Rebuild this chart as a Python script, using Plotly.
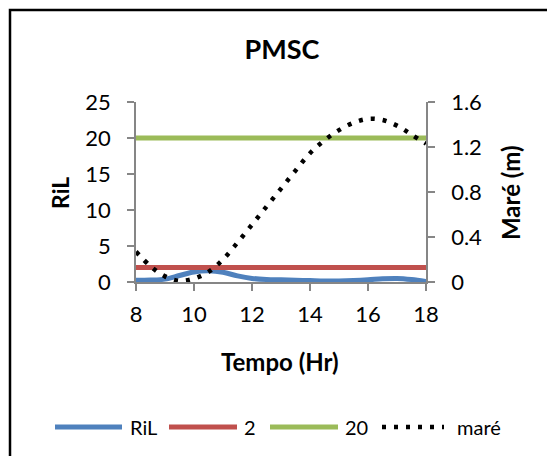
import plotly.graph_objects as go

hours = [8, 8.5, 9, 9.5, 10, 10.5, 11, 11.5, 12, 12.5, 13, 13.5, 14, 14.5, 15, 15.5, 16, 16.5, 17, 17.5, 18]
ril = [0.24, 0.27, 0.4, 0.9, 1.4, 1.55, 1.35, 0.85, 0.5, 0.35, 0.3, 0.25, 0.2, 0.15, 0.15, 0.2, 0.3, 0.45, 0.5, 0.35, 0.08]
ref2 = [2] * len(hours)
ref20 = [20] * len(hours)
mare = [0.27, 0.14, 0.05, 0.01, 0.03, 0.09, 0.20, 0.35, 0.51, 0.67, 0.83, 0.99, 1.145, 1.26, 1.35, 1.415, 1.45, 1.44, 1.39, 1.31, 1.23]

x_ticks = [8, 10, 12, 14, 16, 18]
y_ticks = [0, 5, 10, 15, 20, 25]
y2_ticks = [0, 0.4, 0.8, 1.2, 1.6]
legend_names = ["RiL", "2", "20", "maré"]

FONT = "Lato, Carlito, Calibri, sans-serif"
AX = "#868686"
COLORS = ["#4F81BD", "#C0504D", "#9BBB59", "black"]

W, H = 547, 456
L, R, T, B = 136, 426, 102, 282
pw, ph = R - L, B - T


def px_x(p):
    return (p - L) / pw


def px_y(p):
    return (B - p) / ph


fig = go.Figure()
fig.add_trace(go.Scatter(x=hours, y=ril, name=legend_names[0], mode="lines",
                         line=dict(color=COLORS[0], width=5, shape="spline")))
fig.add_trace(go.Scatter(x=hours, y=ref2, name=legend_names[1], mode="lines",
                         line=dict(color=COLORS[1], width=5)))
fig.add_trace(go.Scatter(x=hours, y=ref20, name=legend_names[2], mode="lines",
                         line=dict(color=COLORS[2], width=5)))
fig.add_trace(go.Scatter(x=hours, y=mare, name=legend_names[3], mode="lines", yaxis="y2",
                         line=dict(color=COLORS[3], width=4.5, dash="4px,8px", shape="spline")))

# legend drawn as decoration (Excel-style long symbol lines)
leg_line_px = [(55, 122), (169, 237), (270, 338), (382, 444)]
leg_text_px = [128, 242, 343, 455]
leg_y = 427
shapes = [dict(type="rect", xref="paper", yref="paper",
               x0=px_x(10), x1=px_x(580), y0=px_y(500), y1=px_y(10),
               line=dict(color="black", width=2.5), fillcolor="rgba(0,0,0,0)", layer="below")]
annotations = []
for i, name in enumerate(legend_names):
    a, b = leg_line_px[i]
    dash = "4px,8px" if i == 3 else "solid"
    shapes.append(dict(type="line", xref="paper", yref="paper",
                       x0=px_x(a), x1=px_x(b), y0=px_y(leg_y), y1=px_y(leg_y),
                       line=dict(color=COLORS[i], width=5 if i < 3 else 4.5, dash=dash)))
    annotations.append(dict(text=name, xref="paper", yref="paper", x=px_x(leg_text_px[i]),
                            y=px_y(leg_y), showarrow=False, xanchor="left", yanchor="middle",
                            font=dict(size=20)))

annotations += [
    dict(text="<b>RiL</b>", xref="paper", yref="paper", x=px_x(60), y=px_y(193),
         textangle=-90, showarrow=False, xanchor="center", yanchor="middle", font=dict(size=23)),
    dict(text="<b>Maré (m)</b>", xref="paper", yref="paper", x=px_x(510), y=px_y(193),
         textangle=-90, showarrow=False, xanchor="center", yanchor="middle", font=dict(size=24)),
    dict(text="<b>Tempo (Hr)</b>", xref="paper", yref="paper", x=px_x(280), y=px_y(361),
         showarrow=False, xanchor="center", yanchor="middle", font=dict(size=24)),
]

fig.update_layout(
    width=W, height=H,
    margin=dict(l=L, r=W - R, t=T, b=H - B, autoexpand=False),
    paper_bgcolor="white", plot_bgcolor="white",
    font=dict(family=FONT, size=22, color="black"),
    showlegend=False,
    xaxis=dict(range=[8, 18], tickvals=x_ticks, ticktext=[str(v) for v in x_ticks],
               showgrid=False, zeroline=False, showline=True, linecolor=AX, linewidth=1.5,
               ticks="outside", ticklen=7, tickcolor=AX, tickwidth=1.5, ticklabelstandoff=5),
    yaxis=dict(range=[0, 25], tickvals=y_ticks, showgrid=False, zeroline=False,
               showline=True, linecolor=AX, linewidth=1.5, ticks="outside", ticklen=7,
               tickcolor=AX, tickwidth=1.5, ticklabelstandoff=12),
    yaxis2=dict(range=[0, 1.6], tickvals=y2_ticks, ticktext=["0", "0.4", "0.8", "1.2", "1.6"],
                overlaying="y", side="right", showgrid=False, zeroline=False,
                showline=True, linecolor=AX, linewidth=1.5, ticks="outside", ticklen=7,
                tickcolor=AX, tickwidth=1.5, ticklabelstandoff=12),
    title=dict(text="<b>PMSC</b>", x=px_x(282), xref="paper", xanchor="center",
               y=1 - 50 / H, yanchor="middle", font=dict(size=27)),
    annotations=annotations,
    shapes=shapes,
)

fig.write_html("out.html")
